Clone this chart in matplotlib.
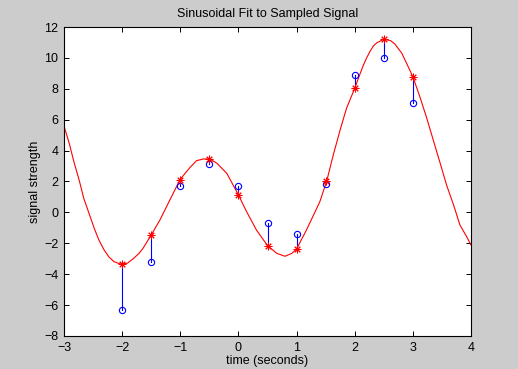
import matplotlib
matplotlib.use("Agg")
import matplotlib.pyplot as plt

plt.rcParams['font.family'] = ['Liberation Sans', 'DejaVu Sans']

# sampled signal
sample_t = [-2.0, -1.5, -1.0, -0.5, 0.0, 0.5, 1.0, 1.5, 2.0, 2.5, 3.0]
sample_y = [-6.32, -3.21, 1.71, 3.13, 1.72, -0.71, -1.38, 1.82, 8.91, 10.01, 7.10]
# fitted values at sample times
fit_at_samples = [-3.34, -1.46, 2.10, 3.44, 1.13, -2.17, -2.37, 2.01, 8.03, 11.22, 8.78]
# fitted curve
curve_t = [-3.0, -2.91, -2.83, -2.74, -2.66, -2.57, -2.48, -2.40, -2.31, -2.23, -2.14,
           -2.03, -1.91, -1.80, -1.71, -1.64, -1.5, -1.35, -1.18, -1.0, -0.83, -0.72,
           -0.60, -0.49, -0.37, -0.20, 0.0, 0.14, 0.31, 0.5, 0.66, 0.80, 0.92, 1.0,
           1.17, 1.40, 1.52, 1.63, 1.75, 1.86, 2.0, 2.09, 2.15, 2.205, 2.26, 2.32, 2.38,
           2.42, 2.50, 2.62, 2.69, 2.81, 2.92, 3.0, 3.12, 3.24, 3.35, 3.47, 3.58, 3.70,
           3.81, 3.925, 4.0]
curve_y = [5.59, 4.47, 3.28, 2.10, 0.91, -0.06, -1.03, -1.79, -2.43, -2.87, -3.19,
           -3.34, -3.29, -2.97, -2.65, -2.32, -1.46, -0.49, 0.80, 2.15, 2.92, 3.35,
           3.46, 3.46, 3.18, 2.53, 1.13, 0.05, -1.14, -2.15, -2.65, -2.84, -2.65, -2.37,
           -1.14, 0.69, 2.05, 3.70, 5.35, 6.75, 8.03, 8.95, 9.54, 10.0, 10.40, 10.77, 10.98,
           11.05, 11.22, 11.11, 10.90, 10.30, 9.43, 8.78, 7.49, 6.09, 4.69, 3.18, 1.77, 0.48,
           -0.82, -1.57, -2.11]

xticks = [-3, -2, -1, 0, 1, 2, 3, 4]
yticks = [-8, -6, -4, -2, 0, 2, 4, 6, 8, 10, 12]

fig = plt.figure(figsize=(5.18, 3.69), dpi=100, facecolor='#cccccc')
ax = fig.add_axes([64/518, 33/369, 407/518, 309/369])
ax.set_facecolor('white')

ax.plot(curve_t, curve_y, color='red', lw=0.8)
for t, a, b in zip(sample_t, sample_y, fit_at_samples):
    ax.plot([t, t], [a, b], color='blue', lw=0.8)
ax.plot(sample_t, sample_y, linestyle='none', marker='o', markersize=4.5,
        markerfacecolor='none', markeredgecolor='blue', markeredgewidth=0.8)
ax.plot(sample_t, fit_at_samples, linestyle='none', marker=(8, 2, 0), markersize=5.5,
        color='red', markeredgewidth=0.7)

ax.set_xlim(-3, 4)
ax.set_ylim(-8, 12)
ax.set_xticks(xticks)
ax.set_yticks(yticks)
ax.tick_params(direction='in', length=3.6, width=0.7, top=True, right=True,
               labelsize=9, pad=4, colors='black')
for s in ax.spines.values():
    s.set_linewidth(0.8)
    s.set_color('black')

ax.set_title('Sinusoidal Fit to Sampled Signal', fontsize=9, pad=7)
ax.set_xlabel('time (seconds)', fontsize=9, labelpad=1)
ax.set_ylabel('signal strength', fontsize=9, labelpad=2)

fig.savefig('out.png', dpi=100, facecolor=fig.get_facecolor())
